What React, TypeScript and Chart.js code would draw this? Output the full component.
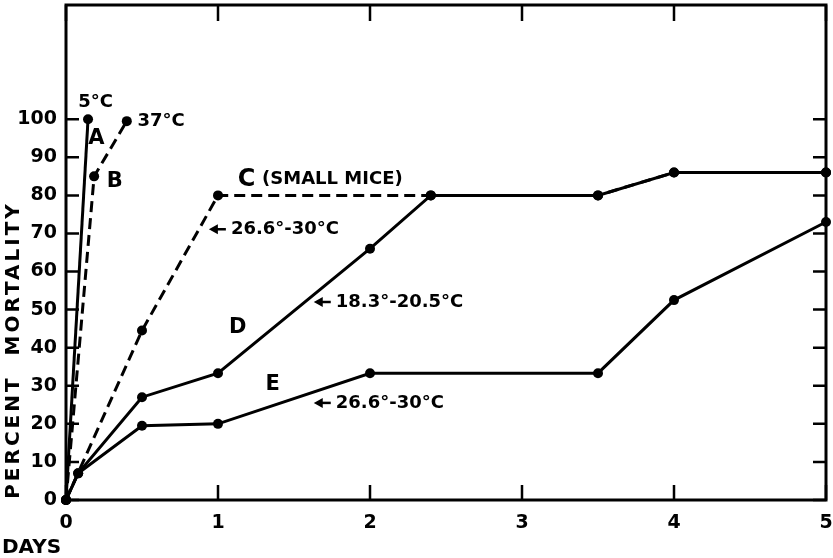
import React, { useEffect, useRef } from "react";
import { Chart, registerables } from "chart.js";

Chart.register(...registerables);

// Axis ticks
const dayTicks = [0, 1, 2, 3, 4, 5];
const mortalityTicks = [0, 10, 20, 30, 40, 50, 60, 70, 80, 90, 100];

// Curve A: 5°C
const daysA = [0, 0.145];
const mortalityA = [0, 100];

// Curve B: 37°C
const daysB = [0, 0.185, 0.4];
const mortalityB = [0, 85, 99.5];

// Curve C: small mice, 26.6°–30°C
const daysC = [0, 0.5, 1, 2.4, 3.5, 4, 5];
const mortalityC = [0, 44.5, 80, 80, 80, 86, 86];

// Curve D: 18.3°–20.5°C
const daysD = [0, 0.08, 0.5, 1, 2, 2.4, 3.5, 4, 5];
const mortalityD = [0, 7, 27, 33.3, 66, 80, 80, 86, 86];

// Curve E: 26.6°–30°C
const daysE = [0, 0.08, 0.5, 1, 2, 3.5, 4, 5];
const mortalityE = [0, 7, 19.5, 20, 33.3, 33.3, 52.5, 73];

// Curve labels, placed in data units; arrowed labels point left at their curve
const noteTexts = ["5°C", "37°C", "A", "B", "C", "(SMALL MICE)", "26.6°-30°C", "D", "18.3°-20.5°C", "E", "26.6°-30°C"];
const noteArrows = [false, false, false, false, false, false, true, false, true, false, true];
const noteDays = [0.08, 0.47, 0.2, 0.32, 1.13, 1.29, 0.94, 1.13, 1.63, 1.36, 1.63];
const notePcts = [104.5, 99.5, 94.8, 83.7, 84, 84.3, 71.1, 45.4, 52, 30.2, 25.5];

const FONT = "'DejaVu Sans', sans-serif";
const noteStyle: Record<string, { size: number; align: CanvasTextAlign }> = {
  "5°C": { size: 18, align: "left" },
  "37°C": { size: 18, align: "left" },
  A: { size: 21, align: "center" },
  B: { size: 21, align: "center" },
  C: { size: 24, align: "left" },
  D: { size: 21, align: "center" },
  E: { size: 21, align: "center" },
};

const toPoints = (xs: number[], ys: number[]) => xs.map((x, i) => ({ x, y: ys[i] }));

const lineStyle = (dashed: boolean) => ({
  borderColor: "#000",
  backgroundColor: "#000",
  borderWidth: 3,
  borderDash: dashed ? [11, 6] : [],
  pointRadius: 5,
  pointBackgroundColor: "#000",
  pointBorderWidth: 0,
  fill: false,
  tension: 0,
  clip: false as const,
});

// Frame around the plot with inward tick marks on every side
const framePlugin = {
  id: "frameTicks",
  beforeDatasetsDraw(chart: any) {
    const { ctx, chartArea: a, scales } = chart;
    ctx.save();
    ctx.strokeStyle = "#000";
    ctx.lineWidth = 3;
    ctx.strokeRect(a.left, a.top, a.right - a.left, a.bottom - a.top);
    ctx.lineWidth = 2.5;
    ctx.beginPath();
    mortalityTicks.forEach((v) => {
      const y = scales.y.getPixelForValue(v);
      ctx.moveTo(a.left, y);
      ctx.lineTo(a.left + 13, y);
      ctx.moveTo(a.right, y);
      ctx.lineTo(a.right - 13, y);
    });
    dayTicks.forEach((v) => {
      const x = scales.x.getPixelForValue(v);
      ctx.moveTo(x, a.bottom);
      ctx.lineTo(x, a.bottom - 15);
      ctx.moveTo(x, a.top);
      ctx.lineTo(x, a.top + 16);
    });
    ctx.stroke();
    ctx.restore();
  },
};

// Curve labels and axis titles
const labelPlugin = {
  id: "curveLabels",
  afterDatasetsDraw(chart: any) {
    const { ctx, chartArea: a, scales } = chart;
    ctx.save();
    ctx.fillStyle = "#000";
    ctx.strokeStyle = "#000";
    ctx.textBaseline = "middle";
    noteTexts.forEach((t, i) => {
      const st = noteStyle[t] || { size: 18, align: "left" as CanvasTextAlign };
      let x = scales.x.getPixelForValue(noteDays[i]);
      const y = scales.y.getPixelForValue(notePcts[i]);
      if (noteArrows[i]) {
        // filled arrowhead with a short shaft
        ctx.beginPath();
        ctx.moveTo(x, y);
        ctx.lineTo(x + 9, y - 5);
        ctx.lineTo(x + 9, y + 5);
        ctx.closePath();
        ctx.fill();
        ctx.lineWidth = 2.5;
        ctx.beginPath();
        ctx.moveTo(x + 6, y);
        ctx.lineTo(x + 17, y);
        ctx.stroke();
        x += 22;
      }
      ctx.font = `bold ${st.size}px ${FONT}`;
      ctx.textAlign = st.align;
      ctx.fillText(t, x, y);
    });

    ctx.font = `bold 20px ${FONT}`;
    (ctx as any).letterSpacing = "3px";
    ctx.textAlign = "center";
    ctx.save();
    ctx.translate(a.left - 52, a.bottom - 150);
    ctx.rotate(-Math.PI / 2);
    ctx.fillText("PERCENT  MORTALITY", 0, 0);
    ctx.restore();
    (ctx as any).letterSpacing = "0px";
    ctx.textAlign = "left";
    ctx.fillText("DAYS", 2, a.bottom + 48);
    ctx.restore();
  },
};

const noPadding = (s: any) => {
  s.paddingTop = 0;
  s.paddingBottom = 0;
  s.paddingLeft = 0;
  s.paddingRight = 0;
};

export default function App() {
  const ref = useRef<HTMLCanvasElement | null>(null);

  useEffect(() => {
    if (!ref.current) return;
    const chart = new Chart(ref.current, {
      type: "line",
      data: {
        datasets: [
          { label: "A", data: toPoints(daysA, mortalityA), ...lineStyle(false) },
          { label: "B", data: toPoints(daysB, mortalityB), ...lineStyle(true) },
          { label: "C", data: toPoints(daysC, mortalityC), ...lineStyle(true) },
          { label: "D", data: toPoints(daysD, mortalityD), ...lineStyle(false) },
          { label: "E", data: toPoints(daysE, mortalityE), ...lineStyle(false) },
        ],
      },
      options: {
        responsive: false,
        animation: false,
        layout: { padding: { top: 5, right: 7, left: 0, bottom: 0 } },
        plugins: { legend: { display: false }, tooltip: { enabled: false } },
        scales: {
          x: {
            type: "linear",
            min: 0,
            max: 5,
            afterBuildTicks: (s: any) => {
              s.ticks = dayTicks.map((v) => ({ value: v }));
            },
            afterFit: (s: any) => {
              s.height = 58;
              noPadding(s);
            },
            grid: { display: false, drawTicks: false },
            border: { display: false },
            ticks: {
              padding: 12,
              color: "#000",
              font: { family: FONT, size: 19, weight: "bold" },
              maxRotation: 0,
              callback: (v: any) => String(v),
            },
          },
          y: {
            type: "linear",
            min: 0,
            max: 130,
            afterBuildTicks: (s: any) => {
              s.ticks = mortalityTicks.map((v) => ({ value: v }));
            },
            afterFit: (s: any) => {
              s.width = 66;
              noPadding(s);
            },
            grid: { display: false, drawTicks: false },
            border: { display: false },
            ticks: {
              padding: 9,
              color: "#000",
              font: { family: FONT, size: 19, weight: "bold" },
              callback: (v: any) => String(v),
            },
          },
        },
      },
      plugins: [framePlugin, labelPlugin],
    });
    return () => chart.destroy();
  }, []);

  return (
    <div style={{ position: "absolute", left: 0, top: 0, width: 833, height: 558, background: "#fff" }}>
      <canvas ref={ref} width={833} height={558} />
    </div>
  );
}
